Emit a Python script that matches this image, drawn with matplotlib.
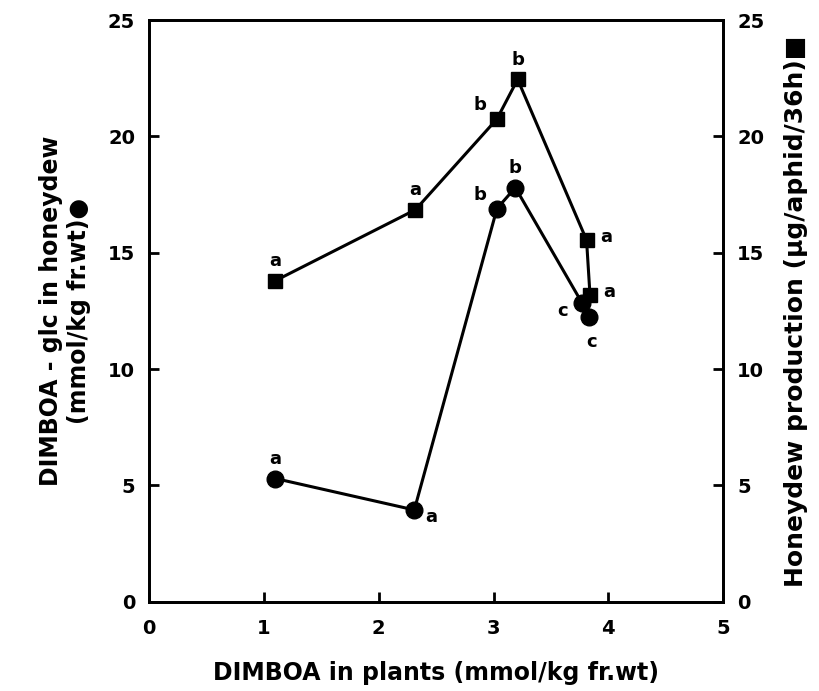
import matplotlib
matplotlib.use("Agg")
import matplotlib.pyplot as plt

# Data
x_circle = [1.10, 2.31, 3.03, 3.19, 3.77, 3.83]
y_circle = [5.3, 3.95, 16.9, 17.8, 12.85, 12.25]
lab_circle = ["a", "a", "b", "b", "c", "c"]

x_square = [1.10, 2.32, 3.03, 3.21, 3.81, 3.84]
y_square = [13.8, 16.85, 20.75, 22.45, 15.55, 13.2]
lab_square = ["a", "a", "b", "b", "a", "a"]

xticks = [0, 1, 2, 3, 4, 5]
yticks = [0, 5, 10, 15, 20, 25]

plt.rcParams['font.family'] = ['DejaVu Sans']
plt.rcParams['font.weight'] = 'bold'

fig = plt.figure(figsize=(8.19, 6.91), dpi=100)
ax = fig.add_axes([0.182, 0.129, 0.701, 0.842])
ax2 = ax.twinx()

ax.plot(x_circle, y_circle, color='black', lw=2.2, marker='o', ms=12, zorder=3)
ax2.plot(x_square, y_square, color='black', lw=2.2, marker='s', ms=10, zorder=3)

ax.set_xlim(0, 5)
ax.set_ylim(0, 25)
ax2.set_ylim(0, 25)
ax.set_xticks(xticks)
ax.set_yticks(yticks)
ax2.set_yticks(yticks)
ax.set_xticklabels([str(t) for t in xticks], fontsize=14, fontweight='bold')
ax.set_yticklabels([str(t) for t in yticks], fontsize=14, fontweight='bold')
ax2.set_yticklabels([str(t) for t in yticks], fontsize=14, fontweight='bold')

for a in (ax, ax2):
    for s in a.spines.values():
        s.set_linewidth(2.0)
ax.tick_params(axis='both', direction='in', length=7, width=2, pad=10)
ax.tick_params(axis='x', pad=12)
ax2.tick_params(axis='y', direction='in', length=7, width=2, pad=10)

# point letters
c_off = [(0, 14), (12, -5), (-12, 10), (0, 14), (-14, -6), (2, -18)]
s_off = [(0, 14), (0, 14), (-12, 10), (0, 14), (14, 2), (14, 2)]
for xv, yv, t, o in zip(x_circle, y_circle, lab_circle, c_off):
    ax.annotate(t, (xv, yv), xytext=o, textcoords='offset points',
                ha='center', va='center', fontsize=13, fontweight='bold')
for xv, yv, t, o in zip(x_square, y_square, lab_square, s_off):
    ax2.annotate(t, (xv, yv), xytext=o, textcoords='offset points',
                 ha='center', va='center', fontsize=13, fontweight='bold')

ax.set_xlabel("DIMBOA in plants (mmol/kg fr.wt)", fontsize=17, fontweight='bold', labelpad=17)
ax.set_ylabel("DIMBOA - glc in honeydew\n(mmol/kg fr.wt)\u25CF", fontsize=17, fontweight='bold', labelpad=12)
ax2.set_ylabel("Honeydew production (\u03bcg/aphid/36h)\u25A0", fontsize=18, fontweight='bold', labelpad=14)

fig.savefig("out.png", dpi=100)
